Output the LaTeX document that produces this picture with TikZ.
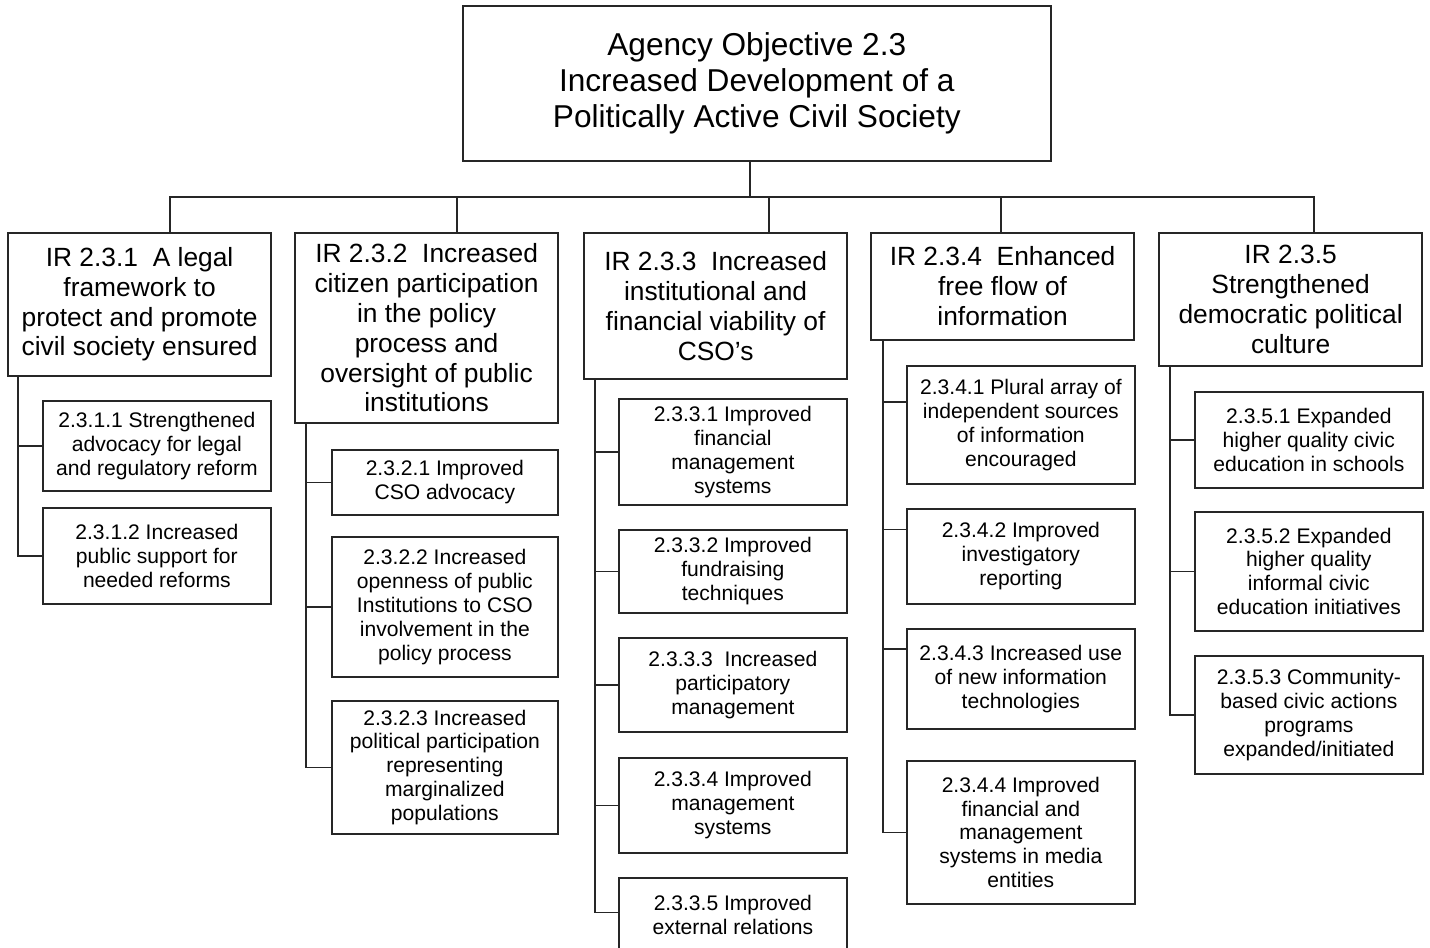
\documentclass[tikz,border=0pt]{standalone}
\usepackage{fontspec}
\setmainfont{Liberation Sans}
\usetikzlibrary{calc}

\begin{document}
\begin{tikzpicture}[x=0.02cm, y=-0.02cm,
        goal_style/.style={draw=black!85, line width=1pt, anchor=north west, align=center, inner sep=0pt,
            minimum width=11.76cm, font=\fontsize{18}{20.5}\selectfont},
        ir_style/.style={draw=black!85, line width=1pt, anchor=north west, align=center, inner sep=0pt,
            minimum width=5.27cm, font=\fontsize{15}{17}\selectfont},
        sub_style/.style={draw=black!85, line width=1pt, anchor=north west, align=center, inner sep=0pt,
            minimum width=4.56cm, font=\fontsize{12}{13.6}\selectfont},
        edge_style/.style={draw=black!85, line width=0.8pt}]

        \useasboundingbox (0,0) rectangle (1430,947);

        \node [goal_style, minimum height=3.1cm](top) at (462,5) {\rule{0pt}{0.2cm}Agency Objective 2.3\\Increased Development of a\\Politically Active Civil Society};

        \node [ir_style, minimum height=2.86cm](ir1) at (7,232) {IR 2.3.1~ A legal\\framework to\\protect and promote\\civil society ensured};

        \node [ir_style, minimum height=3.8cm](ir2) at (294,232) {IR 2.3.2~ Increased\\citizen participation\\in the policy\\process and\\oversight of public\\institutions};

        \node [ir_style, minimum height=2.92cm](ir3) at (583,232) {IR 2.3.3~ Increased\\institutional and\\financial viability of\\CSO’s};

        \node [ir_style, minimum height=2.14cm](ir4) at (870,232) {IR 2.3.4~ Enhanced\\free flow of\\information};

        \node [ir_style, minimum height=2.66cm](ir5) at (1158,232) {IR 2.3.5\\Strengthened\\democratic political\\culture};

        \node [sub_style, minimum height=1.8cm](s11) at (42,400) {2.3.1.1 Strengthened\\advocacy for legal\\and regulatory reform};

        \node [sub_style, minimum height=1.92cm](s12) at (42,507) {2.3.1.2 Increased\\public support for\\needed reforms};

        \node [sub_style, minimum width=4.52cm, minimum height=1.3cm](s21) at (331,449) {2.3.2.1 Improved\\CSO advocacy};

        \node [sub_style, minimum width=4.52cm, minimum height=2.8cm](s22) at (331,536) {2.3.2.2 Increased\\openness of public\\Institutions to CSO\\involvement in the\\policy process};

        \node [sub_style, minimum width=4.52cm, minimum height=2.66cm](s23) at (331,700) {2.3.2.3 Increased\\political participation\\representing\\marginalized\\populations};

        \node [sub_style, minimum height=2.12cm](s31) at (618,398) {2.3.3.1 Improved\\financial\\management\\systems};

        \node [sub_style, minimum height=1.66cm](s32) at (618,529) {2.3.3.2 Improved\\fundraising\\techniques};

        \node [sub_style, minimum height=1.88cm](s33) at (618,637) {2.3.3.3~ Increased\\participatory\\management};

        \node [sub_style, minimum height=1.9cm](s34) at (618,757) {2.3.3.4 Improved\\management\\systems};

        \node [sub_style, minimum height=1.48cm](s35) at (618,877) {2.3.3.5 Improved\\external relations};

        \node [sub_style, minimum height=2.36cm](s41) at (906,365) {2.3.4.1 Plural array of\\independent sources\\of information\\encouraged};

        \node [sub_style, minimum height=1.9cm](s42) at (906,508) {2.3.4.2 Improved\\investigatory\\reporting};

        \node [sub_style, minimum height=2cm](s43) at (906,628) {2.3.4.3 Increased use\\of new information\\technologies};

        \node [sub_style, minimum height=2.86cm](s44) at (906,760) {2.3.4.4 Improved\\financial and\\management\\systems in media\\entities};

        \node [sub_style, minimum height=1.92cm](s51) at (1194,391) {2.3.5.1 Expanded\\higher quality civic\\education in schools};

        \node [sub_style, minimum height=2.38cm](s52) at (1194,511) {2.3.5.2 Expanded\\higher quality\\informal civic\\education initiatives};

        \node [sub_style, minimum height=2.36cm](s53) at (1194,655) {2.3.5.3 Community-\\based civic actions\\programs\\expanded/initiated};

        % top level
        \coordinate (bar) at (750,197);
        \draw [edge_style] (top.south -| bar) -- (bar);
        \draw [edge_style] (bar) -| (ir1.north -| 170,0);
        \draw [edge_style] (bar) -| (ir2.north -| 457,0);
        \draw [edge_style] (bar) -| (ir3.north -| 769,0);
        \draw [edge_style] (bar) -| (ir4.north -| 1001,0);
        \draw [edge_style] (bar) -| (ir5.north -| 1314,0);

        % sub results
        \draw [edge_style] ([xshift=0.22cm]ir1.south west) |- (s11.west);
        \draw [edge_style] ([xshift=0.22cm]ir1.south west) |- (s12.west);

        \draw [edge_style] ([xshift=0.24cm]ir2.south west) |- (s21.west);
        \draw [edge_style] ([xshift=0.24cm]ir2.south west) |- (s22.west);
        \draw [edge_style] ([xshift=0.24cm]ir2.south west) |- (s23.west);

        \draw [edge_style] ([xshift=0.24cm]ir3.south west) |- (s31.west);
        \draw [edge_style] ([xshift=0.24cm]ir3.south west) |- (s32.west);
        \draw [edge_style] ([xshift=0.24cm]ir3.south west) |- (s33.west);
        \draw [edge_style] ([xshift=0.24cm]ir3.south west) |- (s34.west);
        \draw [edge_style] ([xshift=0.24cm]ir3.south west) |- ([yshift=0.05cm]s35.west);

        \draw [edge_style] ([xshift=0.26cm]ir4.south west) |- ([yshift=0.46cm]s41.west);
        \draw [edge_style] ([xshift=0.26cm]ir4.south west) |- ([yshift=0.54cm]s42.west);
        \draw [edge_style] ([xshift=0.26cm]ir4.south west) |- ([yshift=0.6cm]s43.west);
        \draw [edge_style] ([xshift=0.26cm]ir4.south west) |- (s44.west);

        \draw [edge_style] ([xshift=0.24cm]ir5.south west) |- (s51.west);
        \draw [edge_style] ([xshift=0.24cm]ir5.south west) |- (s52.west);
        \draw [edge_style] ([xshift=0.24cm]ir5.south west) |- (s53.west);

\end{tikzpicture}
\end{document}
